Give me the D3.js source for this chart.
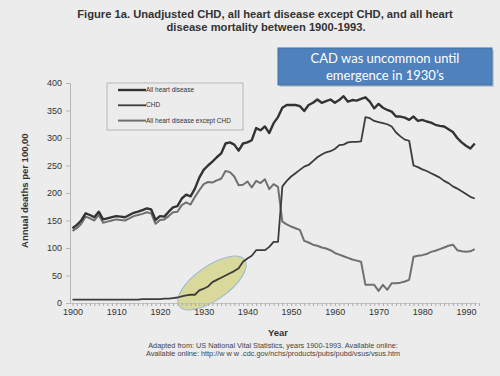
<!DOCTYPE html>
<html>
<head>
<meta charset="utf-8">
<script src="https://cdn.jsdelivr.net/npm/d3@7"></script>
<style>
  body { margin: 0; background: #ececec; }
  svg { display: block; font-family: "Liberation Sans", Arial, sans-serif; }
</style>
</head>
<body>
<div id="chart"></div>
<script>
// years 1900..1992
var startYear = 1900;
var allHeart = [136,142,150,163,160,156,166,152,154,156,
  158,157,156,160,164,166,169,172,170,151,
  158,157,166,174,176,190,197,194,208,228,
  242,250,257,265,272,290,292,288,277,290,
  292,296,318,314,321,309,327,338,355,360,
  360,360,358,349,360,364,370,364,367,370,
  364,369,376,366,369,368,371,374,366,354,
  362,355,351,348,339,339,337,333,339,331,
  333,330,328,324,322,321,316,311,300,292,
  286,281,290];
var chd = [6,6,6,6,6,6,6,6,6,6,
  6,6,6,6,6,6,7,7,7,7,
  7,8,8,9,10,12,14,15,15,23,
  26,30,38,42,46,50,54,58,63,75,
  81,86,96,96,96,102,111,111,212,222,
  230,236,242,248,251,258,265,270,274,276,
  280,287,288,292,293,293,294,338,336,331,
  329,327,325,321,310,303,297,295,250,247,
  243,240,236,232,228,222,218,212,208,203,
  198,193,190];
var exceptChd = [131,136,144,157,154,150,160,146,148,150,
  152,151,150,154,158,160,162,165,163,144,
  151,152,158,165,166,178,183,179,193,205,
  216,220,219,223,226,240,238,230,214,215,
  221,210,222,218,225,207,216,211,148,143,
  139,136,133,113,110,106,104,101,99,96,
  91,88,85,82,79,77,75,33,33,33,
  22,33,24,36,36,37,39,42,84,86,
  87,89,93,95,98,101,104,106,96,94,
  93,94,98];
var yTicks = [0, 50, 100, 150, 200, 250, 300, 350, 400];
var xTicks = [1900, 1910, 1920, 1930, 1940, 1950, 1960, 1970, 1980, 1990];
var seriesNames = ["All heart disease", "CHD", "All heart disease except CHD"];

var width = 500, height = 376;
var svg = d3.select("#chart").append("svg")
  .attr("width", width)
  .attr("height", height);

// scales
var x = d3.scaleLinear().domain([1900, 1990]).range([72.5, 466]);
var y = d3.scaleLinear().domain([0, 400]).range([303, 83]);

// titles
svg.append("text")
  .attr("x", 265).attr("y", 18)
  .attr("text-anchor", "middle")
  .style("font-weight", "bold").style("font-size", "11.2px").attr("fill", "#333")
  .text("Figure 1a. Unadjusted CHD, all heart disease except CHD, and all heart");
svg.append("text")
  .attr("x", 266).attr("y", 31)
  .attr("text-anchor", "middle")
  .style("font-weight", "bold").style("font-size", "11.2px").attr("fill", "#333")
  .text("disease mortality between 1900-1993.");

// highlight ellipse
svg.append("ellipse")
  .attr("cx", 212).attr("cy", 283)
  .attr("rx", 40).attr("ry", 17)
  .attr("transform", "rotate(-35,212,283)")
  .attr("fill", "#d9d99c")
  .attr("stroke", "#9bb8d6")
  .attr("stroke-width", 1);

// y axis
var yAxis = svg.append("g")
  .attr("transform", "translate(70,0)")
  .call(d3.axisLeft(y).tickValues(yTicks).tickSize(4).tickPadding(4));
yAxis.select(".domain").attr("stroke", "#b5b5b5");
yAxis.selectAll("line").attr("stroke", "#b5b5b5");
yAxis.selectAll("text").style("font-size", "9px").attr("fill", "#333")
  .style("font-family", "'Liberation Sans', Arial, sans-serif");

// x axis, minor ticks every year
var years = d3.range(1900, 1994);
var xAxis = svg.append("g")
  .attr("transform", "translate(0,303)")
  .call(d3.axisBottom(x).tickValues(years).tickSize(3).tickSizeOuter(0)
    .tickFormat(function(d) { return xTicks.indexOf(d) >= 0 ? d : ""; }));
xAxis.select(".domain").attr("stroke", "#c4c4c4").attr("d", "M70,0.5H478");
xAxis.selectAll("line").attr("stroke", "#aaa");
xAxis.selectAll("text").style("font-size", "9px").attr("fill", "#333")
  .style("font-family", "'Liberation Sans', Arial, sans-serif");

// axis labels (y label cut off at the top like the scan)
svg.append("defs").append("clipPath").attr("id", "ylabClip")
  .append("rect").attr("x", 0).attr("y", 133).attr("width", 60).attr("height", 200);
svg.append("g")
  .attr("clip-path", "url(#ylabClip)")
  .append("text")
  .attr("transform", "translate(28,188) rotate(-90)")
  .attr("text-anchor", "middle")
  .style("font-weight", "bold").style("font-size", "9.5px").attr("fill", "#333")
  .text("Annual deaths per 100,000");
svg.append("text")
  .attr("x", 278).attr("y", 336)
  .attr("text-anchor", "middle")
  .style("font-weight", "bold").style("font-size", "9.5px").attr("fill", "#333")
  .text("Year");

// footnote
svg.append("text")
  .attr("x", 273).attr("y", 348)
  .attr("text-anchor", "middle")
  .style("font-size", "7.3px").attr("fill", "#444")
  .text("Adapted from: US National Vital Statistics, years 1900-1993. Available online:");
svg.append("text")
  .attr("x", 273).attr("y", 356)
  .attr("text-anchor", "middle")
  .style("font-size", "7.3px").attr("fill", "#444")
  .text("Available online: http://w w w .cdc.gov/nchs/products/pubs/pubd/vsus/vsus.htm");

// lines
var styles = [
  {data: exceptChd, color: "#707070", w: 2},
  {data: chd, color: "#3c3c3c", w: 1.8},
  {data: allHeart, color: "#333", w: 2.4}
];
var line = d3.line()
  .x(function(d, i) { return x(startYear + i); })
  .y(function(d) { return y(d); });
svg.selectAll(".series")
  .data(styles)
  .enter().append("path")
  .attr("class", "series")
  .attr("d", function(d) { return line(d.data); })
  .attr("fill", "none")
  .attr("stroke", function(d) { return d.color; })
  .attr("stroke-width", function(d) { return d.w; })
  .attr("stroke-linejoin", "round");

// legend
var legend = svg.append("g");
legend.append("rect")
  .attr("x", 107).attr("y", 83).attr("width", 136).attr("height", 47)
  .attr("fill", "none").attr("stroke", "#aaa").attr("stroke-width", 0.8);
var legendStyles = [styles[2], styles[1], styles[0]];
seriesNames.forEach(function(name, i) {
  var ly = 90 + i * 15.3;
  legend.append("line")
    .attr("x1", 118).attr("x2", 146).attr("y1", ly).attr("y2", ly)
    .attr("stroke", legendStyles[i].color)
    .attr("stroke-width", legendStyles[i].w);
  legend.append("text")
    .attr("x", 146).attr("y", ly + 2)
    .style("font-size", "6.5px").attr("fill", "#333")
    .text(name);
});

// callout box
var callout = svg.append("g");
callout.append("rect")
  .attr("x", 280).attr("y", 50).attr("width", 214).attr("height", 37)
  .attr("fill", "#9aa4b0").attr("opacity", 0.5);
callout.append("rect")
  .attr("x", 278).attr("y", 48).attr("width", 214).attr("height", 37)
  .attr("fill", "#4f81bd").attr("stroke", "#3f6ea6").attr("stroke-width", 1);
callout.append("text")
  .attr("x", 385).attr("y", 63)
  .attr("text-anchor", "middle")
  .style("font-family", "Lato, 'Open Sans', sans-serif").style("font-size", "13px")
  .attr("fill", "#fff")
  .text("CAD was uncommon until");
callout.append("text")
  .attr("x", 385).attr("y", 80)
  .attr("text-anchor", "middle")
  .style("font-family", "Lato, 'Open Sans', sans-serif").style("font-size", "13px")
  .attr("fill", "#fff")
  .text("emergence in 1930\u2019s");
</script>
</body>
</html>
